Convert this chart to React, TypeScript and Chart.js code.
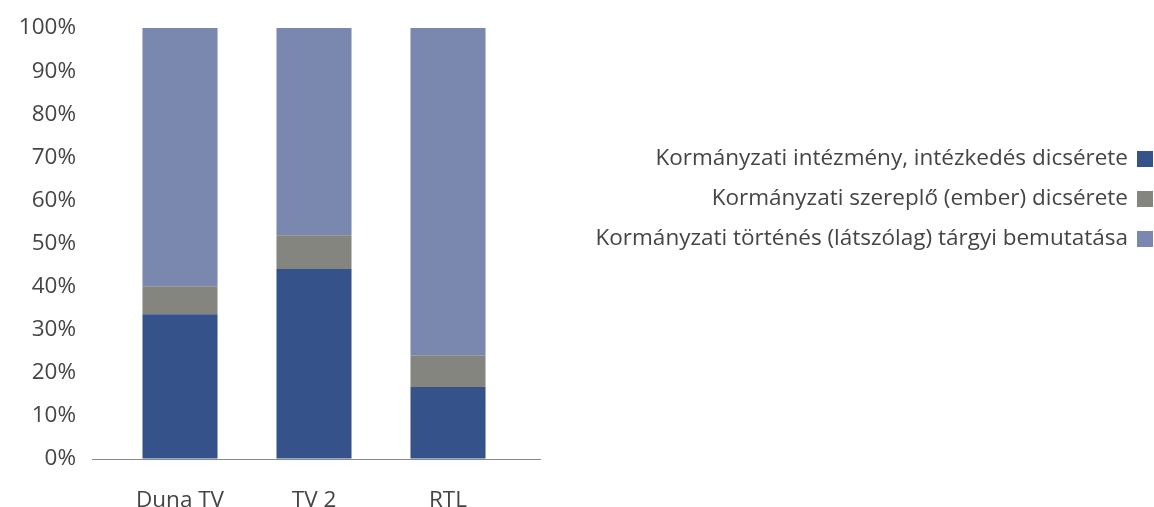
import React, { useEffect, useRef } from "react";
import { Chart, registerables } from "chart.js";

Chart.register(...registerables);

const categories = ["Duna TV", "TV 2", "RTL"];
const seriesNames = [
  "Kormányzati intézmény, intézkedés dicsérete",
  "Kormányzati szereplő (ember) dicsérete",
  "Kormányzati történés (látszólag) tárgyi bemutatása",
];
const institutionPraise = [33.6, 44.1, 16.7];
const personPraise = [6.5, 7.8, 7.4];
const eventPresentation = [59.9, 48.1, 75.9];
const seriesColors = ["#35538A", "#858580", "#7A88B0"];
const yTicks = [0, 10, 20, 30, 40, 50, 60, 70, 80, 90, 100];

const FONT = "'Open Sans', 'Noto Sans', sans-serif";
const FONT_SIZE = 22.5;
const TEXT_COLOR = "#454545";

const baselinePlugin = {
  id: "baseline",
  afterDatasetsDraw(chart: any) {
    const ctx = chart.ctx;
    const y = Math.round(chart.scales.y.getPixelForValue(0)) + 0.5;
    ctx.save();
    ctx.strokeStyle = "#8a8a8a";
    ctx.lineWidth = 1;
    ctx.beginPath();
    ctx.moveTo(chart.chartArea.left - 21, y);
    ctx.lineTo(chart.chartArea.right + 26, y);
    ctx.stroke();
    ctx.restore();
  },
};

const rightLegendPlugin = {
  id: "rightLegend",
  afterDraw(chart: any) {
    const ctx = chart.ctx;
    const boxRight = 1153;
    const box = 16;
    const gap = 9;
    const rowCenters = [159, 199, 239];
    ctx.save();
    ctx.font = `${FONT_SIZE}px ${FONT}`;
    ctx.textAlign = "right";
    ctx.textBaseline = "middle";
    chart.data.datasets.forEach((ds: any, i: number) => {
      const cy = rowCenters[i];
      ctx.fillStyle = ds.backgroundColor;
      ctx.fillRect(boxRight - box, cy - box / 2, box, box);
      ctx.fillStyle = TEXT_COLOR;
      ctx.fillText(ds.label, boxRight - box - gap, cy);
    });
    ctx.restore();
  },
};

export default function App() {
  const canvasRef = useRef<HTMLCanvasElement>(null);

  useEffect(() => {
    if (!canvasRef.current) return;
    const datasets = [institutionPraise, personPraise, eventPresentation].map((d, i) => ({
      label: seriesNames[i],
      data: d,
      backgroundColor: seriesColors[i],
      borderWidth: 0,
      barPercentage: 0.56,
      categoryPercentage: 1,
    }));
    const chart = new Chart(canvasRef.current, {
      type: "bar",
      data: { labels: categories, datasets },
      plugins: [baselinePlugin, rightLegendPlugin],
      options: {
        animation: false,
        responsive: true,
        maintainAspectRatio: false,
        layout: { padding: { top: 28, right: 639, bottom: 0, left: 0 } },
        plugins: { legend: { display: false }, tooltip: { enabled: false } },
        scales: {
          x: {
            stacked: true,
            grid: { display: false },
            border: { display: false },
            ticks: { color: TEXT_COLOR, font: { family: FONT, size: FONT_SIZE }, padding: 20 },
            afterFit: (scale: any) => {
              scale.height = 48;
            },
          },
          y: {
            stacked: true,
            min: 0,
            max: 100,
            grid: {
              display: true,
              drawOnChartArea: false,
              drawTicks: true,
              tickLength: 37,
              color: "rgba(0,0,0,0)",
            },
            border: { display: false },
            afterFit: (scale: any) => {
              scale.width = 113;
            },
            afterBuildTicks: (scale: any) => {
              scale.ticks = yTicks.map((v) => ({ value: v }));
            },
            ticks: {
              color: TEXT_COLOR,
              font: { family: FONT, size: FONT_SIZE },
              padding: 0,
              callback: (v: any) => `${v}%`,
            },
          },
        },
      },
    });
    return () => chart.destroy();
  }, []);

  return (
    <div style={{ position: "fixed", left: 0, top: 0, width: 1154, height: 507, background: "#fff" }}>
      <canvas ref={canvasRef} />
    </div>
  );
}
